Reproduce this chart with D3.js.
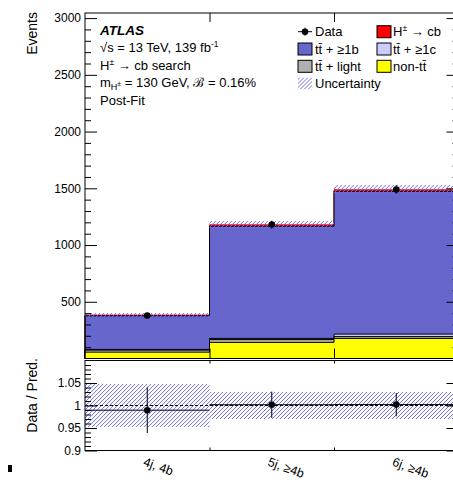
<!DOCTYPE html>
<html>
<head>
<meta charset="utf-8">
<script src="https://cdn.jsdelivr.net/npm/d3@7"></script>
<style>
  body { margin: 0; background: #fff; }
  text { font-family: "Liberation Sans", Arial, Helvetica, sans-serif; fill: #000; }
</style>
</head>
<body>
<svg id="chart" width="453" height="480"></svg>
<script>
// Jet / b-tag multiplicity regions
const categories = ["4j, 4b", "5j, ≥4b", "6j, ≥4b"];

// Post-fit predicted yields per region (stacked bottom to top)
const nonTT   = [56, 142, 177];
const ttLight = [18, 25, 16];
const ttC     = [6, 10, 22];
const ttB     = [296, 989, 1258];
const hcSig   = [7, 12, 14];

// Observed events and relative uncertainty of the prediction
const observed = [379, 1180, 1490];
const relUnc   = [0.048, 0.03, 0.03];

// Axis ticks
const eventTicks = [500, 1000, 1500, 2000, 2500, 3000];
const eventMinor = d3.range(100, 3001, 100).filter(v => v % 500 !== 0);
const ratioTicks = [0.9, 0.95, 1, 1.05];
const ratioMinor = d3.range(0.91, 1.095, 0.01).map(v => +v.toFixed(2)).filter(v => Math.round(v * 100) % 5 !== 0);

const layerDefs = [
  { key: "nonTT",   values: nonTT,   color: "#ffff00", line: "#000" },
  { key: "ttLight", values: ttLight, color: "#b0b0b0", line: "#000" },
  { key: "ttC",     values: ttC,     color: "#ccccff", line: "#000" },
  { key: "ttB",     values: ttB,     color: "#6666cc", line: "#000" },
  { key: "hc",      values: hcSig,   color: "#ff0000", line: "#ff0000" }
];
const HATCH = "#7070f0";

const rows = categories.map((c, i) => {
  const r = { cat: c };
  layerDefs.forEach(l => r[l.key] = l.values[i]);
  return r;
});
const stacked = d3.stack().keys(layerDefs.map(l => l.key))(rows);
const totals = rows.map((r, i) => d3.sum(layerDefs, l => l.values[i]));

const svg = d3.select("#chart");
const L = 85, R = 458.5;
const topY0 = 13, topY1 = 358.5;
const botY0 = 360.5, botY1 = 450.5;

const x = d3.scaleBand().domain(categories).range([L, R]).padding(0);
const xEdge = d3.scaleLinear().domain([0, categories.length]).range([L, R]);
const y = d3.scaleLinear().domain([0, 3045]).range([topY1, topY0]);
const yr = d3.scaleLinear().domain([0.9, 1.1]).range([botY1, botY0]);

const defs = svg.append("defs");
let hatchId = 0;
// "/"-hatched rectangle built from clipped diagonal lines
function hatchRect(parent, rx, ry, rw, rh) {
  const id = "hclip" + (hatchId++);
  defs.append("clipPath").attr("id", id)
    .append("rect").attr("x", rx).attr("y", ry).attr("width", rw).attr("height", rh);
  const g = parent.append("g").attr("clip-path", `url(#${id})`);
  const start = Math.floor((rx - rh) / 4) * 4;
  g.selectAll("line").data(d3.range(start, rx + rw + 4, 4)).join("line")
    .attr("x1", a => a).attr("y1", ry + rh)
    .attr("x2", a => a + rh).attr("y2", ry)
    .attr("stroke", HATCH).attr("stroke-width", 1);
}

svg.append("rect").attr("width", 453).attr("height", 480).attr("fill", "#fff");

// ---------- Upper panel: stacked histogram ----------
const stepPts = vals => {
  const pts = vals.map((v, i) => ({ xe: i, v }));
  pts.push({ xe: vals.length, v: vals[vals.length - 1] });
  return pts;
};
const stepArea = d3.area()
  .x(d => xEdge(d.xe))
  .y0(y(0))
  .y1(d => y(d.v))
  .curve(d3.curveStepAfter);

const gStack = svg.append("g");
// draw from the top cumulative layer down so each lower one sits on top
stacked.slice().reverse().forEach(layer => {
  const def = layerDefs.find(l => l.key === layer.key);
  const tops = layer.map(d => d[1]);
  gStack.append("path")
    .attr("d", stepArea(stepPts(tops)))
    .attr("fill", def.color)
    .attr("stroke", def.line)
    .attr("stroke-width", 1);
});

// uncertainty band on the total prediction
const gBand = svg.append("g");
categories.forEach((c, i) => {
  const yt = y(totals[i] * (1 + relUnc[i])), yb = y(totals[i] * (1 - relUnc[i]));
  hatchRect(gBand, x(c), yt, x.bandwidth(), yb - yt);
});

// data points
const gData = svg.append("g");
gData.selectAll("line").data(categories).join("line")
  .attr("x1", c => x(c) + x.bandwidth() / 2)
  .attr("x2", c => x(c) + x.bandwidth() / 2)
  .attr("y1", (c, i) => y(observed[i] + Math.sqrt(observed[i])))
  .attr("y2", (c, i) => y(observed[i] - Math.sqrt(observed[i])))
  .attr("stroke", "#000").attr("stroke-width", 1);
gData.selectAll("circle").data(categories).join("circle")
  .attr("cx", c => x(c) + x.bandwidth() / 2)
  .attr("cy", (c, i) => y(observed[i]))
  .attr("r", 3.3).attr("fill", "#000");

// frame and axes (upper)
svg.append("rect").attr("x", L).attr("y", topY0).attr("width", R - L).attr("height", topY1 - topY0)
  .attr("fill", "none").attr("stroke", "#000").attr("stroke-width", 1);

const gyMaj = svg.append("g").attr("transform", `translate(${L},0)`)
  .call(d3.axisLeft(y).tickValues(eventTicks).tickSizeInner(-12).tickSizeOuter(0).tickPadding(4)
    .tickFormat(d3.format("d")));
gyMaj.select(".domain").remove();
gyMaj.selectAll("text").attr("font-size", 12).attr("font-family", null);
svg.append("g").attr("transform", `translate(${L},0)`)
  .call(d3.axisLeft(y).tickValues(eventMinor).tickSizeInner(-6).tickSizeOuter(0).tickFormat(""))
  .select(".domain").remove();
svg.append("g").attr("transform", `translate(${R},0)`)
  .call(d3.axisRight(y).tickValues(eventTicks).tickSizeInner(-12).tickSizeOuter(0).tickFormat(""))
  .select(".domain").remove();
svg.append("g").attr("transform", `translate(${R},0)`)
  .call(d3.axisRight(y).tickValues(eventMinor).tickSizeInner(-6).tickSizeOuter(0).tickFormat(""))
  .select(".domain").remove();
svg.append("g").attr("transform", `translate(0,${topY1})`)
  .call(d3.axisBottom(xEdge).tickValues([1, 2]).tickSizeInner(-10).tickSizeOuter(0).tickFormat(""))
  .select(".domain").remove();
svg.append("g").attr("transform", `translate(0,${topY0})`)
  .call(d3.axisTop(xEdge).tickValues([1, 2]).tickSizeInner(-9).tickSizeOuter(0).tickFormat(""))
  .select(".domain").remove();

svg.append("text").attr("transform", "translate(37,12) rotate(-90)")
  .attr("text-anchor", "end").attr("font-size", 14).text("Events");

// ---------- Lower panel: ratio ----------
const gRBand = svg.append("g");
categories.forEach((c, i) => {
  const yt = yr(1 + relUnc[i]), yb = yr(1 - relUnc[i]);
  hatchRect(gRBand, x(c), yt, x.bandwidth(), yb - yt);
});

svg.append("line").attr("x1", L).attr("x2", R).attr("y1", yr(1)).attr("y2", yr(1))
  .attr("stroke", "#000").attr("stroke-width", 1).attr("stroke-dasharray", "3,2");

const ratio = observed.map((d, i) => d / totals[i]);
const ratioErr = observed.map((d, i) => Math.sqrt(d) / totals[i]);
const gR = svg.append("g");
gR.selectAll("line.h").data(categories).join("line").attr("class", "h")
  .attr("x1", c => x(c)).attr("x2", c => x(c) + x.bandwidth())
  .attr("y1", (c, i) => yr(ratio[i])).attr("y2", (c, i) => yr(ratio[i]))
  .attr("stroke", "#000").attr("stroke-width", 1);
gR.selectAll("line.v").data(categories).join("line").attr("class", "v")
  .attr("x1", c => x(c) + x.bandwidth() / 2).attr("x2", c => x(c) + x.bandwidth() / 2)
  .attr("y1", (c, i) => yr(ratio[i] + ratioErr[i])).attr("y2", (c, i) => yr(ratio[i] - ratioErr[i]))
  .attr("stroke", "#000").attr("stroke-width", 1);
gR.selectAll("circle").data(categories).join("circle")
  .attr("cx", c => x(c) + x.bandwidth() / 2)
  .attr("cy", (c, i) => yr(ratio[i]))
  .attr("r", 3.3).attr("fill", "#000");

svg.append("rect").attr("x", L).attr("y", botY0).attr("width", R - L).attr("height", botY1 - botY0)
  .attr("fill", "none").attr("stroke", "#000").attr("stroke-width", 1);

const gr = svg.append("g").attr("transform", `translate(${L},0)`)
  .call(d3.axisLeft(yr).tickValues(ratioTicks).tickSizeInner(-12).tickSizeOuter(0).tickPadding(4)
    .tickFormat(d => d3.format("")(d)));
gr.select(".domain").remove();
gr.selectAll("text").attr("font-size", 12).attr("font-family", null);
svg.append("g").attr("transform", `translate(${L},0)`)
  .call(d3.axisLeft(yr).tickValues(ratioMinor).tickSizeInner(-6).tickSizeOuter(0).tickFormat(""))
  .select(".domain").remove();
svg.append("g").attr("transform", `translate(${R},0)`)
  .call(d3.axisRight(yr).tickValues(ratioTicks).tickSizeInner(-12).tickSizeOuter(0).tickFormat(""))
  .select(".domain").remove();
svg.append("g").attr("transform", `translate(0,${botY1})`)
  .call(d3.axisBottom(xEdge).tickValues([1, 2]).tickSizeInner(-3).tickSizeOuter(0).tickFormat(""))
  .select(".domain").remove();
svg.append("g").attr("transform", `translate(0,${botY0})`)
  .call(d3.axisTop(xEdge).tickValues([1, 2]).tickSizeInner(-3).tickSizeOuter(0).tickFormat(""))
  .select(".domain").remove();
svg.selectAll(".tick line").attr("stroke", "#000");

// category labels, tilted
const gx = svg.append("g").attr("transform", `translate(0,467)`)
  .call(d3.axisBottom(x).tickSize(0));
gx.select(".domain").remove();
gx.selectAll("text")
  .attr("x", -5).attr("y", 0).attr("dy", 0)
  .attr("text-anchor", "start")
  .attr("transform", "rotate(20)")
  .attr("font-size", 12.5).attr("font-family", null);

svg.append("text").attr("transform", "translate(37,358) rotate(-90)")
  .attr("text-anchor", "end").attr("font-size", 14).text("Data / Pred.");

// ---------- Labels ----------
const tx = 100;
svg.append("text").attr("x", tx).attr("y", 34.5).attr("font-size", 13.5)
  .attr("font-weight", "bold").attr("font-style", "italic").text("ATLAS");
const t2 = svg.append("text").attr("x", tx).attr("y", 52).attr("font-size", 13);
t2.append("tspan").text("√s = 13 TeV, 139 fb");
t2.append("tspan").attr("dy", -5).attr("font-size", 8.5).text("-1");
const t3 = svg.append("text").attr("x", tx).attr("y", 69.5).attr("font-size", 13);
t3.append("tspan").text("H");
t3.append("tspan").attr("dy", -5).attr("font-size", 8.5).text("±");
t3.append("tspan").attr("dy", 5).text("  → cb search");
const t4 = svg.append("text").attr("x", tx).attr("y", 87).attr("font-size", 13);
t4.append("tspan").text("m");
t4.append("tspan").attr("dy", 3).attr("font-size", 9).text("H");
t4.append("tspan").attr("dy", -4).attr("font-size", 7).text("±");
t4.append("tspan").attr("dy", 1).text(" = 130 GeV, ℬ = 0.16%");
svg.append("text").attr("x", tx).attr("y", 104.5).attr("font-size", 13).text("Post-Fit");

// ---------- Legend ----------
const legend = svg.append("g");
const rowY = [31.7, 49, 66.3, 83.5];
// Data marker
legend.append("line").attr("x1", 298).attr("x2", 312).attr("y1", rowY[0]).attr("y2", rowY[0]).attr("stroke", "#000");
legend.append("line").attr("x1", 305).attr("x2", 305).attr("y1", rowY[0] - 4).attr("y2", rowY[0] + 4).attr("stroke", "#000");
legend.append("circle").attr("cx", 305).attr("cy", rowY[0]).attr("r", 3.3).attr("fill", "#000");
legend.append("text").attr("x", 315).attr("y", rowY[0] + 4.7).attr("font-size", 13).text("Data");

const boxItems = [
  { col: 1, row: 0, color: "#ff0000", label: "hc" },
  { col: 0, row: 1, color: "#6666cc", label: "tt̄ + ≥1b" },
  { col: 1, row: 1, color: "#ccccff", label: "tt̄ + ≥1c" },
  { col: 0, row: 2, color: "#b0b0b0", label: "tt̄ + light" },
  { col: 1, row: 2, color: "#ffff00", label: "non-tt̄" }
];
const colBox = [298, 377], colText = [315, 393];
boxItems.forEach(it => {
  legend.append("rect").attr("x", colBox[it.col]).attr("y", rowY[it.row] - 6)
    .attr("width", 14).attr("height", 12).attr("fill", it.color)
    .attr("stroke", "#000").attr("stroke-width", 1);
  const t = legend.append("text").attr("x", colText[it.col]).attr("y", rowY[it.row] + 4.7).attr("font-size", 13);
  if (it.label === "hc") {
    t.append("tspan").text("H");
    t.append("tspan").attr("dy", -5).attr("font-size", 8.5).text("±");
    t.append("tspan").attr("dy", 5).text("  → cb");
  } else {
    t.text(it.label);
  }
});
hatchRect(legend, 298, rowY[3] - 6, 14, 12);
legend.append("text").attr("x", 315).attr("y", rowY[3] + 4.7).attr("font-size", 13).text("Uncertainty");

// small mark at the lower-left edge
svg.append("rect").attr("x", 8).attr("y", 465).attr("width", 4).attr("height", 7).attr("fill", "#000");
</script>
</body>
</html>
